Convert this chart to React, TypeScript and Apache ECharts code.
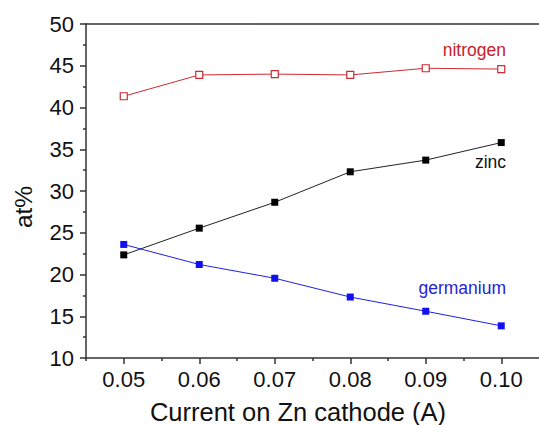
import React, { useEffect, useRef } from "react";
import * as echarts from "echarts";

const currents = [0.05, 0.06, 0.07, 0.08, 0.09, 0.1];
const nitrogen = [41.35, 43.9, 44.0, 43.9, 44.7, 44.6];
const zinc = [22.35, 25.55, 28.65, 32.3, 33.7, 35.8];
const germanium = [23.6, 21.2, 19.55, 17.3, 15.6, 13.85];
const xMajorTicks = [0.05, 0.06, 0.07, 0.08, 0.09, 0.1];
const xMinorTicks = [0.045, 0.055, 0.065, 0.075, 0.085, 0.095];

const FONT = "'Liberation Sans', Arial, sans-serif";
const AXIS = "#333333";
const RED = "#cc2b33";
const BLUE = "#1f1fe6";

export default function App() {
  const ref = useRef<HTMLDivElement>(null);
  useEffect(() => {
    if (!ref.current) return;
    const chart = echarts.init(ref.current, undefined, { renderer: "svg" });
    const pairs = (ys: number[]) => currents.map((x, i) => [x, ys[i]]);
    chart.setOption({
      animation: false,
      backgroundColor: "#ffffff",
      grid: { left: 86, top: 24, width: 454, height: 334, containLabel: false },
      xAxis: [
        {
          type: "value",
          min: 0.045,
          max: 0.105,
          position: "bottom",
          axisLine: { show: true, lineStyle: { color: AXIS, width: 1.5 } },
          axisTick: { show: true, customValues: xMajorTicks, length: 6, lineStyle: { color: AXIS, width: 1.5 } },
          axisLabel: {
            customValues: xMajorTicks,
            formatter: (v: number) => v.toFixed(2),
            fontSize: 22,
            fontFamily: FONT,
            color: "#111",
            margin: 10,
          },
          splitLine: { show: false },
        },
        {
          type: "value",
          min: 0.045,
          max: 0.105,
          position: "bottom",
          axisLine: { show: false },
          axisTick: { show: true, customValues: xMinorTicks, length: 3, lineStyle: { color: AXIS, width: 1.5 } },
          axisLabel: { show: false },
          splitLine: { show: false },
        },
        {
          type: "value",
          min: 0.045,
          max: 0.105,
          position: "top",
          axisLine: { show: true, lineStyle: { color: AXIS, width: 1.5 } },
          axisTick: { show: false },
          axisLabel: { show: false },
          splitLine: { show: false },
        },
      ],
      yAxis: {
        type: "value",
        min: 10,
        max: 50,
        interval: 5,
        axisLine: { show: true, lineStyle: { color: AXIS, width: 1.5 } },
        axisTick: { show: true, length: 6, lineStyle: { color: AXIS, width: 1.5 } },
        minorTick: { show: true, splitNumber: 2, length: 3, lineStyle: { color: AXIS, width: 1.5 } },
        axisLabel: { fontSize: 22, fontFamily: FONT, color: "#111", margin: 12 },
        splitLine: { show: false },
      },
      series: [
        {
          name: "nitrogen",
          type: "line",
          xAxisIndex: 0,
          data: pairs(nitrogen),
          symbol: "rect",
          symbolSize: 7,
          lineStyle: { color: RED, width: 1 },
          itemStyle: { color: "#ffffff", borderColor: RED, borderWidth: 1.2 },
        },
        {
          name: "zinc",
          type: "line",
          xAxisIndex: 0,
          data: pairs(zinc),
          symbol: "rect",
          symbolSize: 7,
          lineStyle: { color: "#222", width: 1 },
          itemStyle: { color: "#000" },
        },
        {
          name: "germanium",
          type: "line",
          xAxisIndex: 0,
          data: pairs(germanium),
          symbol: "rect",
          symbolSize: 7,
          lineStyle: { color: BLUE, width: 1 },
          itemStyle: { color: "#1010f0" },
        },
      ],
      graphic: [
        {
          type: "text",
          style: { text: "nitrogen", x: 506, y: 50, textAlign: "right", textVerticalAlign: "middle", fontSize: 17.5, fontFamily: FONT, fill: "#c8202a" },
        },
        {
          type: "text",
          style: { text: "zinc", x: 506, y: 162, textAlign: "right", textVerticalAlign: "middle", fontSize: 17.5, fontFamily: FONT, fill: "#111" },
        },
        {
          type: "text",
          style: { text: "germanium", x: 506, y: 288, textAlign: "right", textVerticalAlign: "middle", fontSize: 17.5, fontFamily: FONT, fill: "#2323d8" },
        },
        {
          type: "text",
          style: { text: "Current on Zn cathode (A)", x: 298, y: 412, textAlign: "center", textVerticalAlign: "middle", fontSize: 25.5, fontFamily: FONT, fill: "#111" },
        },
        {
          type: "text",
          rotation: Math.PI / 2,
          x: 23,
          y: 207,
          style: { text: "at%", x: 0, y: 0, textAlign: "center", textVerticalAlign: "middle", fontSize: 24.5, fontFamily: FONT, fill: "#111" },
        },
      ],
    });
    return () => chart.dispose();
  }, []);
  return <div ref={ref} style={{ position: "absolute", left: 0, top: 0, width: 539, height: 425, overflow: "hidden" }} />;
}
